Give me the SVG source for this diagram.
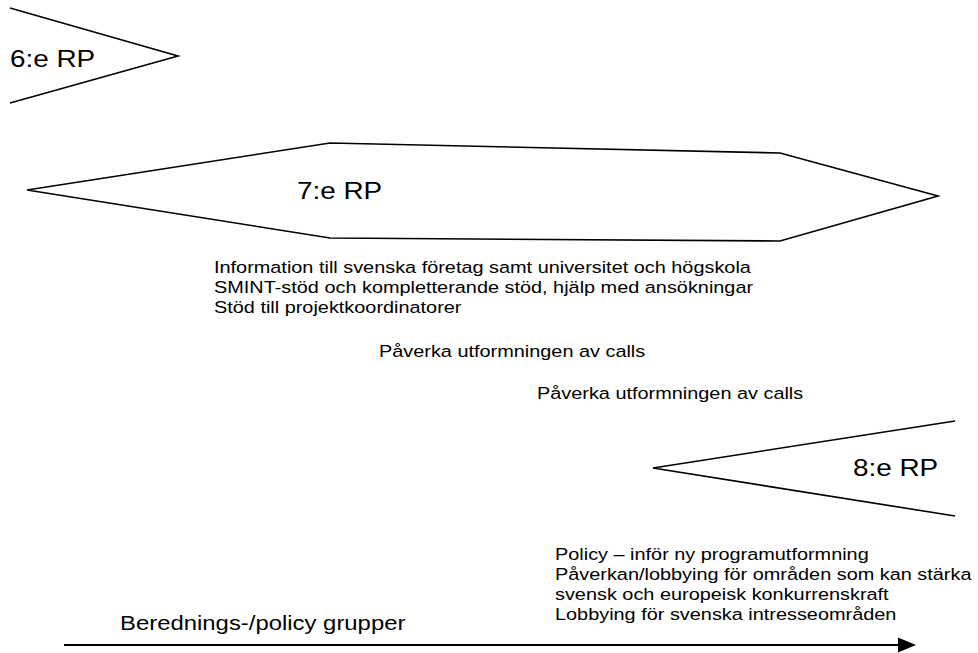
<svg xmlns="http://www.w3.org/2000/svg" width="978" height="653" viewBox="0 0 978 653">
<style>
.sh{fill:none;stroke:#000;stroke-width:1.6;stroke-linejoin:miter}
text{font-family:"Liberation Sans",Arial,sans-serif;fill:#000}
.big{font-size:24.4px}
.sm{font-size:17.4px}
.mid{font-size:20.9px}
</style>
<rect width="978" height="653" fill="#fff"/>
<g id="rp6">
<polyline class="sh" points="10,8 178,56 10,103"/>
<text class="big" transform="translate(10,67) scale(1.143,1)">6:e RP</text>
</g>
<g id="rp7">
<polygon class="sh" points="27,190 330,143 780,153 938,196 780,241 330,238"/>
<text class="big" transform="translate(297,199) scale(1.143,1)">7:e RP</text>
</g>
<g id="rp7-text">
<text class="sm" transform="translate(214,273) scale(1.143,1)">Information till svenska företag samt universitet och högskola</text>
<text class="sm" transform="translate(214,293) scale(1.143,1)">SMINT-stöd och kompletterande stöd, hjälp med ansökningar</text>
<text class="sm" transform="translate(214,313) scale(1.143,1)">Stöd till projektkoordinatorer</text>
</g>
<g id="calls1"><text class="sm" transform="translate(379,357) scale(1.143,1)">Påverka utformningen av calls</text></g>
<g id="calls2"><text class="sm" transform="translate(537,399) scale(1.143,1)">Påverka utformningen av calls</text></g>
<g id="rp8">
<polyline class="sh" points="955,421 653,468 955,516"/>
<text class="big" transform="translate(853,476) scale(1.143,1)">8:e RP</text>
</g>
<g id="rp8-text">
<text class="sm" transform="translate(555,560) scale(1.143,1)">Policy – inför ny programutformning</text>
<text class="sm" transform="translate(555,580) scale(1.143,1)">Påverkan/lobbying för områden som kan stärka</text>
<text class="sm" transform="translate(555,600) scale(1.143,1)">svensk och europeisk konkurrenskraft</text>
<text class="sm" transform="translate(555,620) scale(1.143,1)">Lobbying för svenska intresseområden</text>
</g>
<g id="policy-label"><text class="mid" transform="translate(120,630) scale(1.143,1)">Berednings-/policy grupper</text></g>
<g id="connectors">
<line x1="64" y1="645" x2="900" y2="645" stroke="#000" stroke-width="2.2"/>
<path d="M898,637.5 L916,645 L898,652.5 Z" fill="#000"/>
</g>
</svg>
